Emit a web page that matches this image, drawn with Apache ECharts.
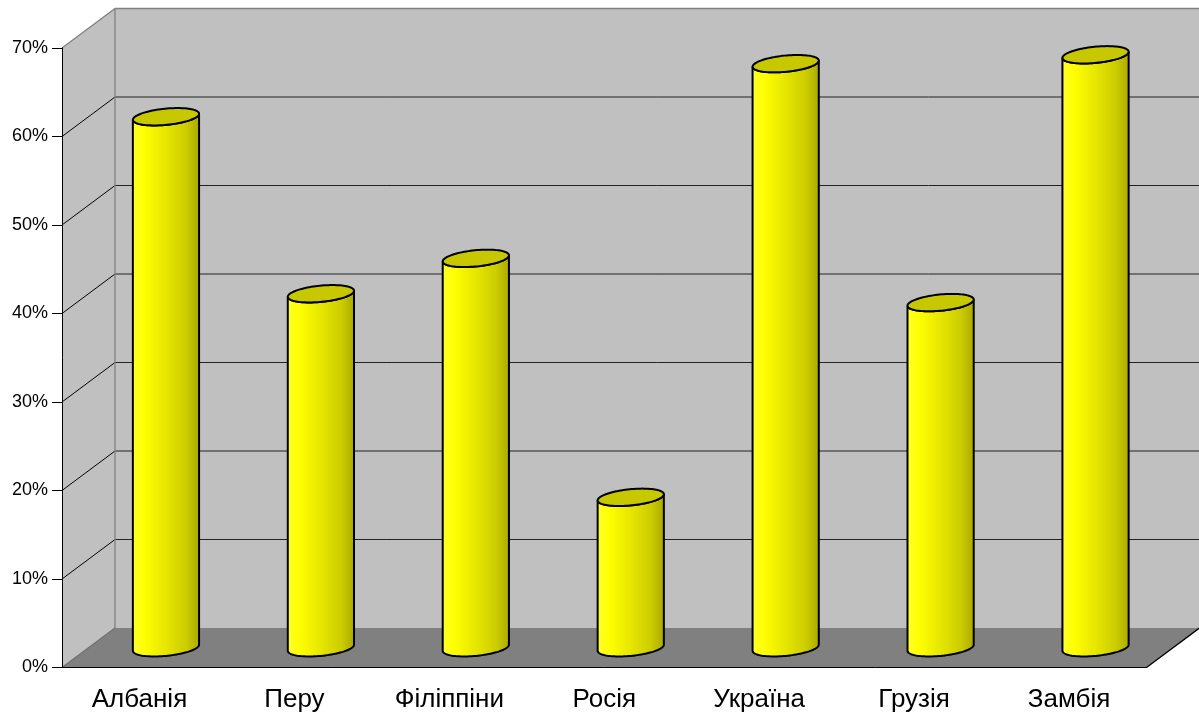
<!DOCTYPE html>
<html>
<head>
<meta charset="utf-8">
<script src="https://cdn.jsdelivr.net/npm/echarts@6/dist/echarts.min.js"></script>
<style>
  html, body { margin: 0; padding: 0; background: #ffffff; }
  #chart { width: 1199px; height: 715px; }
</style>
</head>
<body>
<div id="chart"></div>
<script>
// Countries along the category axis
const countries = ['Албанія', 'Перу', 'Філіппіни', 'Росія', 'Україна', 'Грузія', 'Замбія'];
// Share for each country (fraction of 1)
const shares = [0.60, 0.40, 0.44, 0.17, 0.66, 0.39, 0.67];
// Value-axis ticks
const yTicks = [0, 0.1, 0.2, 0.3, 0.4, 0.5, 0.6, 0.7];

// Oblique depth of the 3D box (screen offset from front plane to back wall)
const DEPTH_X = 53;
const DEPTH_Y = -39.5;
const DEPTH_LEN = Math.hypot(DEPTH_X, DEPTH_Y);
const UX = DEPTH_X / DEPTH_LEN;
const UY = DEPTH_Y / DEPTH_LEN;

const FONT = '"Liberation Sans", Arial, sans-serif';

// Walls, floor and gridlines of the 3D box
function renderWalls(params, api) {
  const cs = params.coordSys;
  const x0 = cs.x;
  const x1 = cs.x + cs.width;
  const yAt = v => api.coord([0, v])[1];
  const y0 = yAt(yTicks[0]);
  const yMax = yAt(yTicks[yTicks.length - 1]);
  const bx0 = x0 + DEPTH_X, bx1 = x1 + DEPTH_X;
  const children = [];

  // left side wall
  children.push({
    type: 'polygon',
    shape: { points: [[x0, y0], [bx0, y0 + DEPTH_Y], [bx0, yMax + DEPTH_Y], [x0, yMax]] },
    style: { fill: '#c0c0c0' }
  });
  // back wall
  children.push({
    type: 'polygon',
    shape: { points: [[bx0, y0 + DEPTH_Y], [bx1, y0 + DEPTH_Y], [bx1, yMax + DEPTH_Y], [bx0, yMax + DEPTH_Y]] },
    style: { fill: '#c0c0c0' }
  });
  // floor
  children.push({
    type: 'polygon',
    shape: { points: [[x0, y0], [x1, y0], [bx1, y0 + DEPTH_Y], [bx0, y0 + DEPTH_Y]] },
    style: { fill: '#808080' }
  });

  // gridlines: horizontal on the back wall, diagonal on the side wall
  yTicks.slice(1, -1).forEach(v => {
    const y = yAt(v);
    children.push({
      type: 'line',
      shape: { x1: bx0, y1: y + DEPTH_Y, x2: bx1, y2: y + DEPTH_Y },
      style: { stroke: '#222222', lineWidth: 1 }
    });
    children.push({
      type: 'line',
      shape: { x1: x0, y1: y, x2: bx0, y2: y + DEPTH_Y },
      style: { stroke: '#000000', lineWidth: 1 }
    });
  });

  const edge = (ax, ay, bx, by, color) => children.push({
    type: 'line',
    shape: { x1: ax, y1: ay, x2: bx, y2: by },
    style: { stroke: color, lineWidth: 1.3 }
  });
  // wall borders
  edge(bx0, yMax + DEPTH_Y, bx1 + 2, yMax + DEPTH_Y, '#808080');
  edge(x0, yMax, bx0, yMax + DEPTH_Y, '#808080');
  edge(bx0, y0 + DEPTH_Y, bx0, yMax + DEPTH_Y, '#808080');
  edge(x0, y0, bx0, y0 + DEPTH_Y, '#707070');
  // right edge of the floor
  edge(x1, y0, bx1, y0 + DEPTH_Y, '#000000');

  return { type: 'group', children: children };
}

// Point on an oblique-projected circle lying in a horizontal plane
function ellipsePoint(cx, cy, a, b, t) {
  return [cx + a * Math.cos(t) + b * UX * Math.sin(t), cy + b * UY * Math.sin(t)];
}

// One 3D cylinder per category
function renderCylinder(params, api) {
  const cat = api.value(0);
  const val = api.value(1);
  const topPt = api.coord([cat, val]);
  const basePt = api.coord([cat, 0]);
  const band = api.size([1, 0])[0];

  const cx = topPt[0] + DEPTH_X / 2;
  const yTop = topPt[1] + DEPTH_Y / 2;
  const yBase = basePt[1] + DEPTH_Y / 2;
  const a = band * 0.2;          // semi-axis along the category direction
  const b = DEPTH_LEN * 0.22;    // radius along the depth direction

  const t0 = Math.atan2(b * UX, a);
  const N = 48;

  // body outline: left side, front of base, right side, front of top
  const body = [];
  for (let i = 0; i <= N; i++) {
    body.push(ellipsePoint(cx, yBase, a, b, t0 + Math.PI + Math.PI * i / N));
  }
  for (let i = 0; i <= N; i++) {
    body.push(ellipsePoint(cx, yTop, a, b, t0 + 2 * Math.PI - Math.PI * i / N));
  }

  const cap = [];
  for (let i = 0; i < 2 * N; i++) {
    cap.push(ellipsePoint(cx, yTop, a, b, Math.PI * i / N));
  }

  return {
    type: 'group',
    children: [
      {
        type: 'polygon',
        shape: { points: body },
        style: {
          fill: new echarts.graphic.LinearGradient(0, 0, 1, 0, [
            { offset: 0, color: '#ffff30' },
            { offset: 0.18, color: '#ffff00' },
            { offset: 0.5, color: '#e6e600' },
            { offset: 0.8, color: '#cccc00' },
            { offset: 1, color: '#a8a800' }
          ]),
          stroke: '#000000',
          lineWidth: 2
        }
      },
      {
        type: 'polygon',
        shape: { points: cap },
        style: { fill: '#c8c800', stroke: '#000000', lineWidth: 2 }
      }
    ]
  };
}

const chart = echarts.init(document.getElementById('chart'), null, { renderer: 'canvas' });

chart.setOption({
  backgroundColor: '#ffffff',
  animation: false,
  grid: { left: 62, right: 52.5, top: 48, bottom: 47.5 },
  xAxis: {
    type: 'category',
    data: countries,
    z: 10,
    axisLine: { lineStyle: { color: '#000000', width: 1 } },
    axisTick: { length: 10, lineStyle: { color: '#000000' } },
    axisLabel: { color: '#000000', fontFamily: FONT, fontSize: 26, margin: 19 },
    splitLine: { show: false }
  },
  yAxis: {
    type: 'value',
    min: yTicks[0],
    max: yTicks[yTicks.length - 1],
    interval: yTicks[1] - yTicks[0],
    z: 10,
    axisLine: { show: true, lineStyle: { color: '#000000', width: 1 } },
    axisTick: { show: true, length: 10, lineStyle: { color: '#000000' } },
    axisLabel: {
      color: '#000000', fontFamily: FONT, fontSize: 18, margin: 14,
      formatter: v => Math.round(v * 100) + '%'
    },
    splitLine: { show: false }
  },
  series: [
    {
      type: 'custom',
      name: 'walls',
      z: 1,
      silent: true,
      renderItem: renderWalls,
      data: [[0, 0]]
    },
    {
      type: 'custom',
      name: 'shares',
      z: 5,
      renderItem: renderCylinder,
      data: shares.map((v, i) => [i, v])
    }
  ]
});
</script>
</body>
</html>
